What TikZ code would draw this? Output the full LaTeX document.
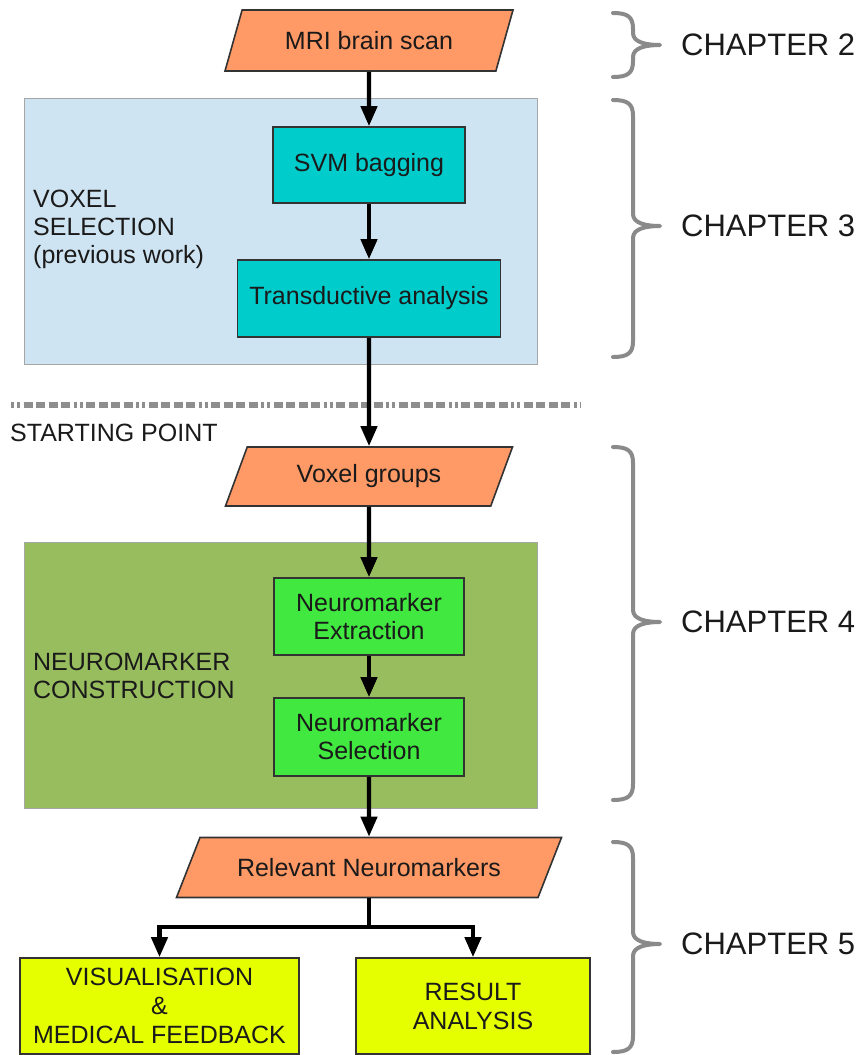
\documentclass[tikz,border=0pt]{standalone}
\usepackage{fontspec}
\setmainfont{Liberation Sans}
\usetikzlibrary{arrows.meta,shapes.geometric}

\definecolor{iofill}{HTML}{FF9966}
\definecolor{tealfill}{HTML}{00CCCC}
\definecolor{bluebg}{HTML}{CFE4F2}
\definecolor{greenbg}{HTML}{98BD5F}
\definecolor{brightgreen}{HTML}{40E840}
\definecolor{yellowfill}{HTML}{E5FF00}
\definecolor{bordergray}{HTML}{333333}
\definecolor{bracegray}{HTML}{8A8A8A}
\definecolor{divgray}{HTML}{8E8E8E}
\definecolor{ink}{HTML}{1A1A1A}

\tikzset{
  txt/.style={font=\fontsize{25}{28}\selectfont, text=ink},
  chap/.style={font=\fontsize{31}{34}\selectfont, text=ink, anchor=west, inner sep=0pt},
  iobox/.style={txt, shape=trapezium, draw=bordergray, line width=1.6pt, fill=iofill,
    trapezium stretches body=true, inner sep=0pt},
  procbox/.style={txt, draw=bordergray, line width=1.6pt, align=center, inner sep=0pt},
  outbox/.style={txt, draw=bordergray, line width=1.6pt, fill=yellowfill, align=center,
    inner sep=0pt, font=\fontsize{25}{29}\selectfont},
  bgbox/.style={draw=gray!70, line width=0.8pt, inner sep=0pt},
  sidelabel/.style={txt, anchor=west, align=left, inner sep=0pt},
  arrow/.style={line width=4.2pt, -{Triangle[length=20pt,width=16pt]}},
  link/.style={line width=4.2pt},
  curly/.style={draw=bracegray, line width=4pt, line cap=round, line join=round},
}

\begin{document}
\begin{tikzpicture}[x=1pt,y=-1pt]
\useasboundingbox (0,0) rectangle (861,1055);

% grouping panels
\node[bgbox, fill=bluebg, minimum width=513, minimum height=266] (vsel) at (280.5,231) {};
\node[bgbox, fill=greenbg, minimum width=513, minimum height=266] (ncons) at (280.5,675) {};

\node[sidelabel] (vsellbl) at (33,229.5) {VOXEL\\SELECTION\\(previous work)};
\node[sidelabel] (nconslbl) at (33,675.5) {NEUROMARKER\\CONSTRUCTION};

% divider
\draw[divgray, line width=6.5pt,
  dash pattern=on 3pt off 3pt on 3pt off 3.5pt on 9pt off 3.5pt on 9pt off 3.5pt on 9pt off 3.5pt on 9pt off 3.5pt]
  (11,405) coordinate (divL) -- (581,405) coordinate (divR);
\node[txt, anchor=west, inner sep=0pt] (start) at (10,433) {STARTING POINT};

% flow nodes
\node[iobox, trapezium left angle=47, trapezium right angle=133,
  minimum width=288, minimum height=61] (mri) at (369,40.5) {MRI brain scan};
\node[procbox, fill=tealfill, minimum width=192, minimum height=76] (svm) at (369,165) {SVM bagging};
\node[procbox, fill=tealfill, minimum width=263, minimum height=77] (trans) at (369,298.5) {Transductive analysis};
\node[iobox, trapezium left angle=47, trapezium right angle=133,
  minimum width=287, minimum height=59] (vox) at (369,476.5) {Voxel groups};
\node[procbox, fill=brightgreen, minimum width=190, minimum height=77] (extr) at (369,616.5) {Neuromarker\\Extraction};
\node[procbox, fill=brightgreen, minimum width=190, minimum height=78] (sel) at (369,737) {Neuromarker\\Selection};
\node[iobox, trapezium left angle=38, trapezium right angle=142,
  minimum width=385, minimum height=60] (rel) at (369,867.5) {Relevant Neuromarkers};
\node[outbox, minimum width=279, minimum height=96] (vis) at (159.5,1006) {VISUALISATION\\\&\\MEDICAL FEEDBACK};
\node[outbox, minimum width=234, minimum height=96] (res) at (473,1006) {RESULT\\ANALYSIS};

% connectors
\draw[arrow] (mri.south) -- (svm.north);
\draw[arrow] (svm.south) -- (trans.north);
\draw[arrow] (trans.south) -- (vox.north);
\draw[arrow] (vox.south) -- (extr.north);
\draw[arrow] (extr.south) -- (sel.north);
\draw[arrow] (sel.south) -- (rel.north);
\draw[link] (rel.south) -- ++(0,29) coordinate (split);
\draw[arrow] (split) -| (vis.north);
\draw[arrow] (split) -| (res.north);

% chapter braces
\foreach \top/\mid/\bot/\name in {13/45/77/2, 100/226/357/3, 447/622/800/4, 842/944/1052/5}{
  \draw[curly] (613,\top) .. controls (628,\top) and (633,\top+4) .. (633,\top+16)
    -- (633,\mid-12) .. controls (633,\mid-3) and (645,\mid) .. (660,\mid)
    .. controls (645,\mid) and (633,\mid+3) .. (633,\mid+12)
    -- (633,\bot-16) .. controls (633,\bot-4) and (628,\bot) .. (613,\bot);
  \node[chap] (chap\name) at (681,\mid) {CHAPTER \name};
}
\end{tikzpicture}
\end{document}
